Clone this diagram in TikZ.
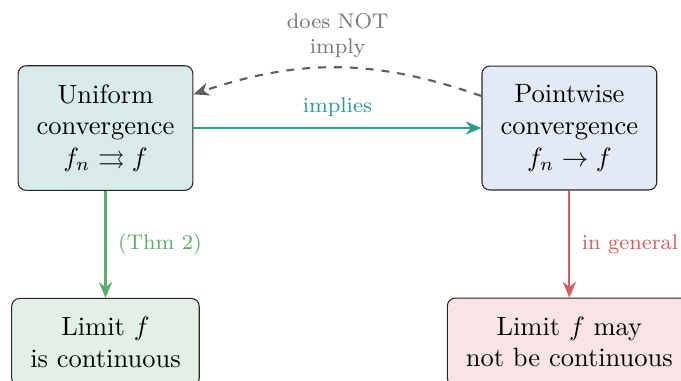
\documentclass[tikz,border=0pt]{standalone}
\usepackage{amsmath}
\usepackage{amssymb}
\usetikzlibrary{positioning,arrows.meta}

\definecolor{tealA}{RGB}{42,157,143}
\definecolor{greenA}{RGB}{92,172,110}
\definecolor{redA}{RGB}{212,94,94}
\definecolor{grayA}{RGB}{95,95,95}
\definecolor{grayT}{RGB}{120,120,120}
\definecolor{fillU}{RGB}{216,235,232}
\definecolor{fillP}{RGB}{228,233,246}
\definecolor{fillC}{RGB}{227,240,231}
\definecolor{fillN}{RGB}{248,228,229}

\begin{document}
\begin{tikzpicture}[
		node distance=1.42cm and 3.82cm,
		box/.style={rectangle, rounded corners=3pt, draw=black!85, align=center, inner sep=7pt},
		arrow/.style={-{Stealth[length=6pt,width=5pt]}, thick},
		lbl/.style={font=\footnotesize, align=center}
	]
	\useasboundingbox (-1.399,1.698) rectangle (7.633,-3.342);

	% Nodes
	\node[box, fill=fillU] (unif) at (0,0) {Uniform\\convergence\\$f_n \rightrightarrows f$};
	\node[box, fill=fillP, right=of unif] (point) {Pointwise\\convergence\\$f_n \to f$};
	\node[box, fill=fillC, below=of unif] (limC) {Limit $f$\\is continuous};
	\node[box, fill=fillN, below=of point] (limN) {Limit $f$ may\\not be continuous};

	% Arrows
	\draw[arrow, tealA] (unif) -- (point) node[lbl, midway, above=0.5pt] {implies};
	\draw[arrow, dashed, grayA] (point.160) to[bend right=19] node[lbl, midway, above, text=grayT] {does NOT\\imply} (unif.21);
	\draw[arrow, greenA] (unif) -- (limC) node[lbl, midway, right=1pt] {(Thm 2)};
	\draw[arrow, redA] (point) -- (limN) node[lbl, midway, right=1pt] {in general};

\end{tikzpicture}
\end{document}
